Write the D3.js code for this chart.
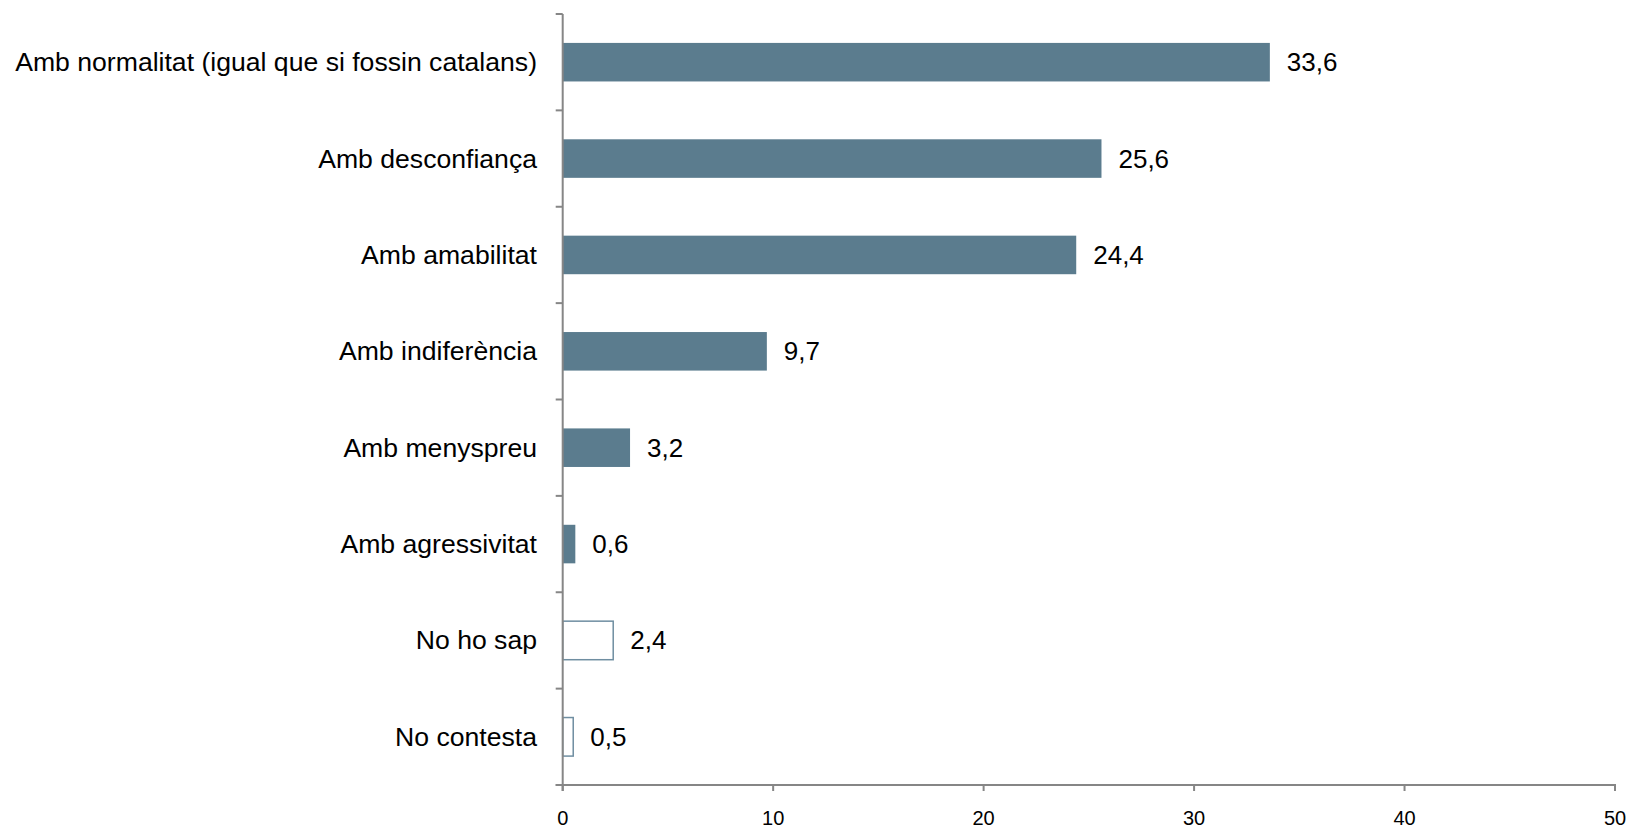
<!DOCTYPE html>
<html>
<head>
<meta charset="utf-8">
<script src="https://cdn.jsdelivr.net/npm/d3@7/dist/d3.min.js"></script>
<style>
  html, body { margin: 0; padding: 0; background: #fff; }
  svg { display: block; }
</style>
</head>
<body>
<svg id="chart" width="1632" height="830"></svg>
<script>
const categories = [
  "Amb normalitat (igual que si fossin catalans)",
  "Amb desconfiança",
  "Amb amabilitat",
  "Amb indiferència",
  "Amb menyspreu",
  "Amb agressivitat",
  "No ho sap",
  "No contesta"
];
const values = [33.6, 25.6, 24.4, 9.7, 3.2, 0.6, 2.4, 0.5];
const outlined = [false, false, false, false, false, false, true, true];
const xTicks = [0, 10, 20, 30, 40, 50];

(function () {
const svg = d3.select("#chart");
const mLeft = 562.7, mRight = 1615, mTop = 14, mBottom = 785;
const axisColor = "#868686";
const barColor = "#5b7c8e";
const outlineColor = "#6f8ea1";
const font = "'Liberation Sans', Arial, sans-serif";

const x = d3.scaleLinear().domain([0, 50]).range([mLeft, mRight]);
const y = d3.scaleBand().domain(categories).range([mTop, mBottom]).paddingInner(0.6).paddingOuter(0.3);

const data = categories.map((c, i) => ({ c, v: values[i], o: outlined[i] }));

// bars
svg.append("g").selectAll("rect").data(data).join("rect")
  .attr("x", x(0))
  .attr("y", d => y(d.c))
  .attr("width", d => x(d.v) - x(0))
  .attr("height", y.bandwidth())
  .attr("fill", d => d.o ? "#fff" : barColor)
  .attr("stroke", d => d.o ? outlineColor : "none")
  .attr("stroke-width", 1.5);

// value labels
svg.append("g").selectAll("text").data(data).join("text")
  .attr("x", d => x(d.v) + 17)
  .attr("y", d => y(d.c) + y.bandwidth() / 2)
  .attr("dominant-baseline", "central")
  .attr("font-family", font)
  .attr("font-size", 26)
  .attr("fill", "#000")
  .text(d => String(d.v).replace(".", ","));

// y axis line + ticks at band boundaries
const step = (mBottom - mTop) / categories.length;
const g = svg.append("g").attr("stroke", axisColor).attr("stroke-width", 2).attr("fill", "none");
g.append("line").attr("x1", mLeft).attr("x2", mLeft).attr("y1", mTop).attr("y2", mBottom + 6);
d3.range(categories.length + 1).forEach(i => {
  const yy = mTop + i * step;
  g.append("line").attr("x1", mLeft - 7).attr("x2", mLeft).attr("y1", yy).attr("y2", yy);
});

// x axis
g.append("line").attr("x1", mLeft - 7).attr("x2", mRight + 1).attr("y1", mBottom).attr("y2", mBottom);
xTicks.forEach(t => {
  g.append("line").attr("x1", x(t)).attr("x2", x(t)).attr("y1", mBottom).attr("y2", mBottom + 6);
});

// x tick labels
svg.append("g").selectAll("text").data(xTicks).join("text")
  .attr("x", d => x(d))
  .attr("y", 825)
  .attr("text-anchor", "middle")
  .attr("font-family", font)
  .attr("font-size", 20)
  .attr("fill", "#000")
  .text(d => d);

// category labels
svg.append("g").selectAll("text").data(categories).join("text")
  .attr("x", 537)
  .attr("y", d => y(d) + y.bandwidth() / 2)
  .attr("text-anchor", "end")
  .attr("dominant-baseline", "central")
  .attr("font-family", font)
  .attr("font-size", 26.6)
  .attr("fill", "#000")
  .text(d => d);
})();
</script>
</body>
</html>
